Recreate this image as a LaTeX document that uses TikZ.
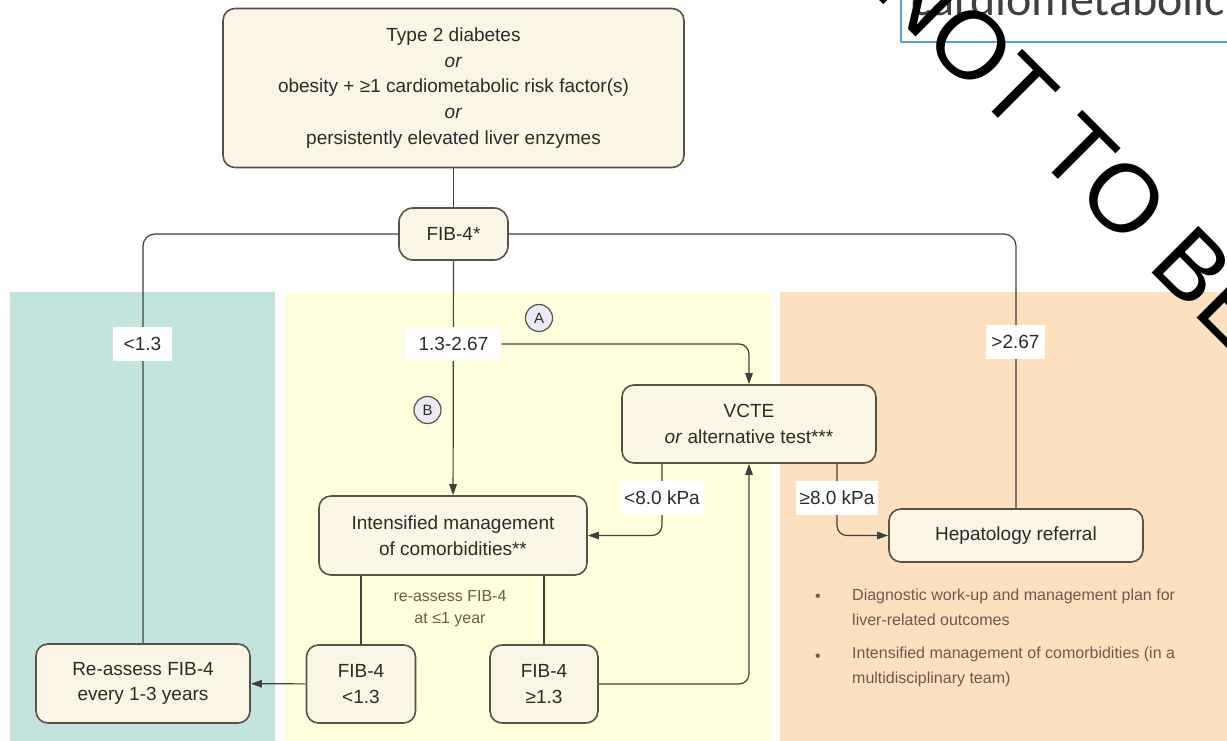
\documentclass[tikz,border=0pt]{standalone}
\usepackage{fontspec}
\setmainfont{Liberation Sans}
\newfontfamily\slidefont{Carlito}
\usepackage{tikz}
\usetikzlibrary{calc}
\usetikzlibrary{arrows.meta}
\definecolor{panelteal}{HTML}{C3E3DE}
\definecolor{panelyellow}{HTML}{FFFEDD}
\definecolor{panelorange}{HTML}{FDE0BD}
\definecolor{boxfill}{HTML}{FAF5E4}
\definecolor{boxline}{HTML}{57534A}
\definecolor{wire}{HTML}{404040}
\definecolor{textgray}{HTML}{2B2B2B}
\definecolor{notetext}{HTML}{6B5B4E}
\definecolor{markfill}{HTML}{ECEBF5}
\definecolor{slideblue}{HTML}{5B9BD5}
\definecolor{slidetext}{HTML}{404040}
\pgfdeclarelayer{panel}
\pgfdeclarelayer{wirelayer}
\pgfsetlayers{panel,wirelayer,main}
\tikzstyle{every node}=[font=\fontsize{19}{25.8}\selectfont,text=textgray]

\begin{document}
\begin{tikzpicture}[x=1pt,y=-1pt,line cap=round,line join=round,>={Triangle[length=11pt,width=7.5pt]},
  box/.style={draw=boxline,fill=boxfill,line width=1.6pt,rounded corners=12pt,align=center,inner sep=0pt},
  lbl/.style={fill=white,inner xsep=4pt,inner ysep=0pt,minimum height=34pt},
  ringmark/.style={circle,draw=boxline,fill=markfill,line width=1.2pt,minimum size=27pt,inner sep=0pt,font=\fontsize{15}{15}\selectfont},
  wirepath/.style={draw=wire,line width=1.2pt},
  note/.style={text=notetext,font=\fontsize{16}{24.5}\selectfont,align=left,inner sep=0pt}]
\useasboundingbox (0,0) rectangle (1227,741);
\clip (0,0) rectangle (1227,741);

% background panels
\begin{pgfonlayer}{panel}
\fill[panelteal] (10,292) rectangle (275,741);
\fill[panelyellow] (285,292) rectangle (771,741);
\fill[panelorange] (780,292) rectangle (1227,741);
\end{pgfonlayer}

% boxes
\node[box,minimum width=461pt,minimum height=159pt] (start) at (453.5,88) {Type 2 diabetes\\\textit{or}\\obesity + ≥1 cardiometabolic risk factor(s)\\\textit{or}\\persistently elevated liver enzymes};
\node[box,minimum width=109pt,minimum height=52pt,rounded corners=14pt] (fib) at (453.5,234) {FIB-4*};
\node[box,minimum width=254pt,minimum height=78pt] (vcte) at (749,424) {VCTE\\\textit{or} alternative test***};
\node[box,minimum width=268pt,minimum height=79pt] (intens) at (453,535.5) {Intensified management\\of comorbidities**};
\node[box,minimum width=254pt,minimum height=53pt] (hep) at (1016,535.5) {Hepatology referral};
\node[box,minimum width=214pt,minimum height=79pt] (reassess) at (143,683.5) {Re-assess FIB-4\\every 1-3 years};
\node[box,minimum width=109pt,minimum height=78pt] (fiblow) at (361,684) {FIB-4\\<1.3};
\node[box,minimum width=108pt,minimum height=78pt] (fibhigh) at (544,684) {FIB-4\\≥1.3};

% cut-off labels
\node[lbl,inner xsep=11pt] (cutlow) at (142.5,344) {<1.3};
\node[lbl,inner xsep=13pt] (cutmid) at (453.5,344) {1.3-2.67};
\node[lbl,inner xsep=5pt] (cuthigh) at (1015.5,342) {>2.67};
\node[lbl] (kpalow) at (662,497.5) {<8.0 kPa};
\node[lbl] (kpahigh) at (837,497.5) {≥8.0 kPa};

\node[ringmark] (pathA) at (539,318) {A};
\node[ringmark] (pathB) at (427.5,410) {B};

% notes
\node[note,align=center,font=\fontsize{16}{22}\selectfont] (yearly) at (450,609) {re-assess FIB-4\\at ≤1 year};
\node[note,anchor=west] (workup) at (852,607.5) {Diagnostic work-up and management plan for\\liver-related outcomes};
\node[note,anchor=west] (team) at (852,667) {Intensified management of comorbidities (in a\\multidisciplinary team)};
\node[note,anchor=base] (dotone) at (818,601) {•};
\node[note,anchor=base] (dottwo) at (818,661) {•};

% connectors
\begin{pgfonlayer}{wirelayer}
\draw[wirepath] (start) -- (fib);
\draw[wirepath,rounded corners=12pt] (fib.west) -| (reassess.north);
\draw[wirepath,rounded corners=12pt] (fib.east) -| (hep.north);
\draw[wirepath,->] (fib) -- (intens);
\draw[wirepath,->,rounded corners=10pt] (cutmid.east) -| (vcte.north);
\draw[wirepath,->,rounded corners=10pt] (kpalow |- vcte.south) |- (intens.east);
\draw[wirepath,->,rounded corners=10pt] (kpahigh |- vcte.south) |- (hep.west);
\draw[wirepath] (fiblow |- intens.south) -- (fiblow);
\draw[wirepath] (fibhigh |- intens.south) -- (fibhigh);
\draw[wirepath,->] (fiblow) -- (reassess);
\draw[wirepath,->,rounded corners=10pt] (fibhigh.east) -| (vcte.south);
\end{pgfonlayer}

% slide remnant and stamp
\node[draw=slideblue,line width=2pt,anchor=south west,minimum width=400pt,minimum height=100pt,inner sep=0pt] (slide) at (900,43) {};
\node[anchor=base west,inner sep=0pt,font=\slidefont\fontsize{48}{48}\selectfont,text=slidetext] (slidetitle) at (911,16) {cardiometabolic};
\node[rotate=-45,inner sep=0pt,font=\fontsize{96}{96}\selectfont,text=black] (stamp) at (1078,152) {NOT TO BE};
\end{tikzpicture}
\end{document}
